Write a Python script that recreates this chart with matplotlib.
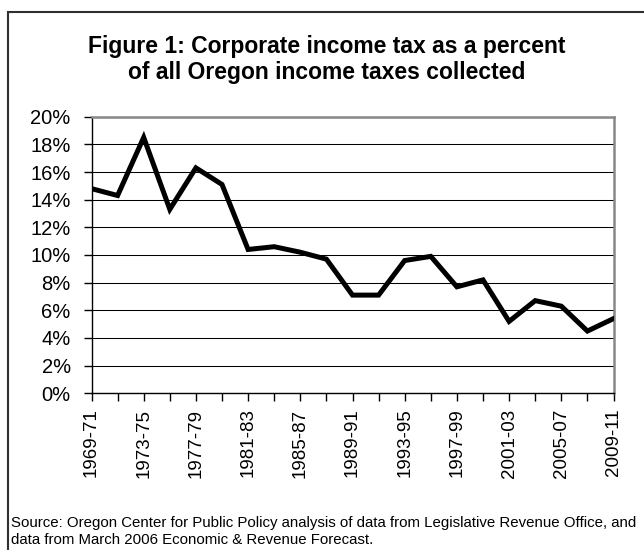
import matplotlib
matplotlib.use("Agg")
import matplotlib.pyplot as plt
from matplotlib.patches import Rectangle

plt.rcParams['font.family'] = ['Liberation Sans', 'DejaVu Sans']

# Datos: impuesto corporativo como % del total de impuestos sobre la renta
bienios = ['1969-71', '1971-73', '1973-75', '1975-77', '1977-79', '1979-81',
           '1981-83', '1983-85', '1985-87', '1987-89', '1989-91', '1991-93',
           '1993-95', '1995-97', '1997-99', '1999-01', '2001-03', '2003-05',
           '2005-07', '2007-09', '2009-11']
porcentaje = [14.8, 14.3, 18.5, 13.3, 16.3, 15.1, 10.4, 10.6, 10.2, 9.7,
              7.1, 7.1, 9.6, 9.9, 7.7, 8.2, 5.2, 6.7, 6.3, 4.5, 5.4]
y_ticks = [0, 2, 4, 6, 8, 10, 12, 14, 16, 18, 20]

titulo = ["Figure 1: Corporate income tax as a percent",
          "of all Oregon income taxes collected"]
fuente = ["Source: Oregon Center for Public Policy analysis of data from Legislative Revenue Office, and",
          "data from March 2006 Economic & Revenue Forecast."]

W, H = 644, 550
fig = plt.figure(figsize=(W / 100, H / 100), dpi=100)
ax = fig.add_axes([91.5 / W, 1 - 393.3 / H, 522 / W, 276.6 / H])

x = list(range(len(bienios)))
ax.plot(x, porcentaje, color='black', lw=3.6, solid_joinstyle='miter', zorder=3)

ax.set_xlim(0, len(bienios) - 1)
ax.set_ylim(0, 20)
ax.set_yticks(y_ticks)
ax.set_yticklabels([f'{v}%' for v in y_ticks])
ax.set_xticks(x)
ax.set_xticklabels([b if i % 2 == 0 else '' for i, b in enumerate(bienios)], rotation=90)

ax.tick_params(axis='both', direction='out', length=6, width=1, color='black')
ax.tick_params(axis='y', pad=9, labelsize=14.5)
ax.tick_params(axis='x', pad=5, labelsize=13.5)

# grid horizontal
ax.grid(True, axis='y', color='black', lw=0.75)
ax.set_axisbelow(True)

ax.spines['left'].set_color('black')
ax.spines['bottom'].set_color('black')
ax.spines['left'].set_linewidth(1)
ax.spines['bottom'].set_linewidth(1)
ax.spines['top'].set_color('#888888')
ax.spines['right'].set_color('#888888')
ax.spines['top'].set_linewidth(1.8)
ax.spines['right'].set_linewidth(1.8)

# titulo (dos lineas)
for linea, yy in zip(titulo, [46, 72]):
    fig.text(327 / W, 1 - yy / H, linea, ha='center', va='center', fontsize=16.5,
             fontweight='bold')

# fuente
for linea, yy in zip(fuente, [527, 544]):
    fig.text(10.7 / W, 1 - yy / H, linea, ha='left', va='baseline', fontsize=10.8)

# borde exterior
fig.patches.append(Rectangle((8.3 / W, -0.05), 1.1, 1 - 12.3 / H + 0.05,
                             transform=fig.transFigure, fill=False,
                             edgecolor='#303030', lw=1.5))

fig.savefig('out.png', dpi=100)
